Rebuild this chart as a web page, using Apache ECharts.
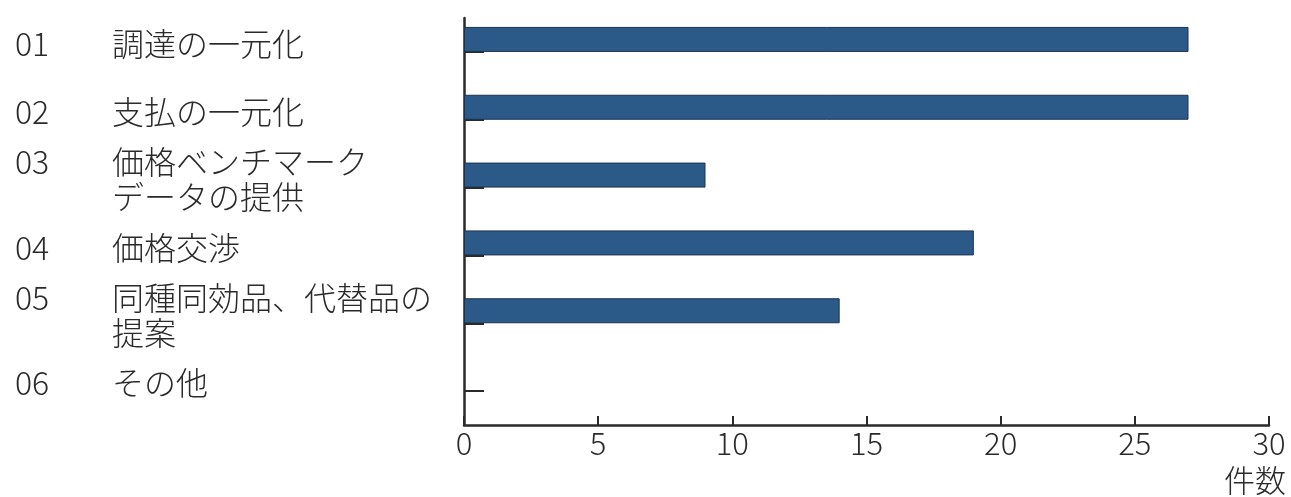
<!DOCTYPE html>
<html>
<head>
<meta charset="utf-8">
<script src="https://cdn.jsdelivr.net/npm/echarts@6/dist/echarts.min.js"></script>
<style>
  html, body { margin: 0; padding: 0; background: #fff; }
  #chart { width: 1291px; height: 497px; }
</style>
</head>
<body>
<div id="chart"></div>
<script>
// Item numbers and item names (multi-line names use \n)
const itemNumbers = ['01', '02', '03', '04', '05', '06'];
const itemNames = [
  '調達の一元化',
  '支払の一元化',
  '価格ベンチマーク\nデータの提供',
  '価格交渉',
  '同種同効品、代替品の\n提案',
  'その他'
];
// Number of cases per item
const caseCounts = [27, 27, 9, 19, 14, 0];
// Value axis ticks
const xTicks = [0, 5, 10, 15, 20, 25, 30];
const xUnit = '件数';

const FONT = '"Noto Sans CJK JP", "Noto Sans", sans-serif';
const WEIGHT = 300;
const INK = '#2a2a2a';
const FS = 31;
const FS_ITEM = 32;

// Build rich-text labels: number column, then the name (continuation lines indented)
const categories = itemNumbers.map((n, i) => {
  const lines = itemNames[i].split('\n');
  return lines.map((line, k) => '{n|' + (k === 0 ? n : ' ') + '}{t|' + line + '}').join('\n');
});

// Zero-length bars draw nothing (no outline sliver)
const barData = caseCounts.map(v => v === 0 ? { value: v, itemStyle: { borderWidth: 0, opacity: 0 } } : v);

const chart = echarts.init(document.getElementById('chart'), null, { renderer: 'canvas' });

chart.setOption({
  backgroundColor: '#ffffff',
  animation: false,
  grid: { left: 464, right: 22, top: 18, bottom: 72, containLabel: false },
  xAxis: {
    type: 'value',
    min: xTicks[0],
    max: xTicks[xTicks.length - 1],
    interval: xTicks[1] - xTicks[0],
    axisLine: { show: true, lineStyle: { color: INK, width: 2.5 } },
    axisTick: { show: true, inside: true, length: 9, lineStyle: { color: INK, width: 2 } },
    splitLine: { show: false },
    axisLabel: {
      margin: 3,
      fontFamily: FONT,
      fontWeight: WEIGHT,
      fontSize: FS,
      color: INK,
      verticalAlign: 'top'
    },
    name: xUnit,
    nameLocation: 'end',
    nameGap: 17,
    nameTextStyle: {
      fontFamily: FONT,
      fontWeight: WEIGHT,
      fontSize: FS,
      color: INK,
      align: 'right',
      verticalAlign: 'top',
      padding: [40, 0, 0, 0]
    }
  },
  yAxis: {
    type: 'category',
    inverse: true,
    data: categories,
    axisLine: { show: true, lineStyle: { color: INK, width: 2.5 } },
    axisTick: { show: true, inside: true, alignWithLabel: true, interval: 0, length: 20, lineStyle: { color: INK, width: 2 } },
    axisLabel: {
      interval: 0,
      align: 'left',
      margin: 449,
      padding: [0, 0, 16, 0],
      lineHeight: 35,
      rich: {
        n: { width: 97, fontFamily: FONT, fontWeight: WEIGHT, fontSize: FS_ITEM, color: INK, lineHeight: 35 },
        t: { fontFamily: FONT, fontWeight: WEIGHT, fontSize: FS_ITEM, color: INK, lineHeight: 35 }
      }
    }
  },
  series: [
    {
      name: xUnit,
      type: 'bar',
      data: barData,
      barWidth: 25,
      barGap: '0%',
      itemStyle: { color: '#2c5a88', borderColor: '#1b3350', borderWidth: 1 },
      z: 2
    },
    {
      // empty companion series so each bar sits just above its tick
      name: 'spacer',
      type: 'bar',
      data: caseCounts.map(() => '-'),
      barWidth: 25,
      barGap: '0%'
    }
  ]
});
</script>
</body>
</html>
